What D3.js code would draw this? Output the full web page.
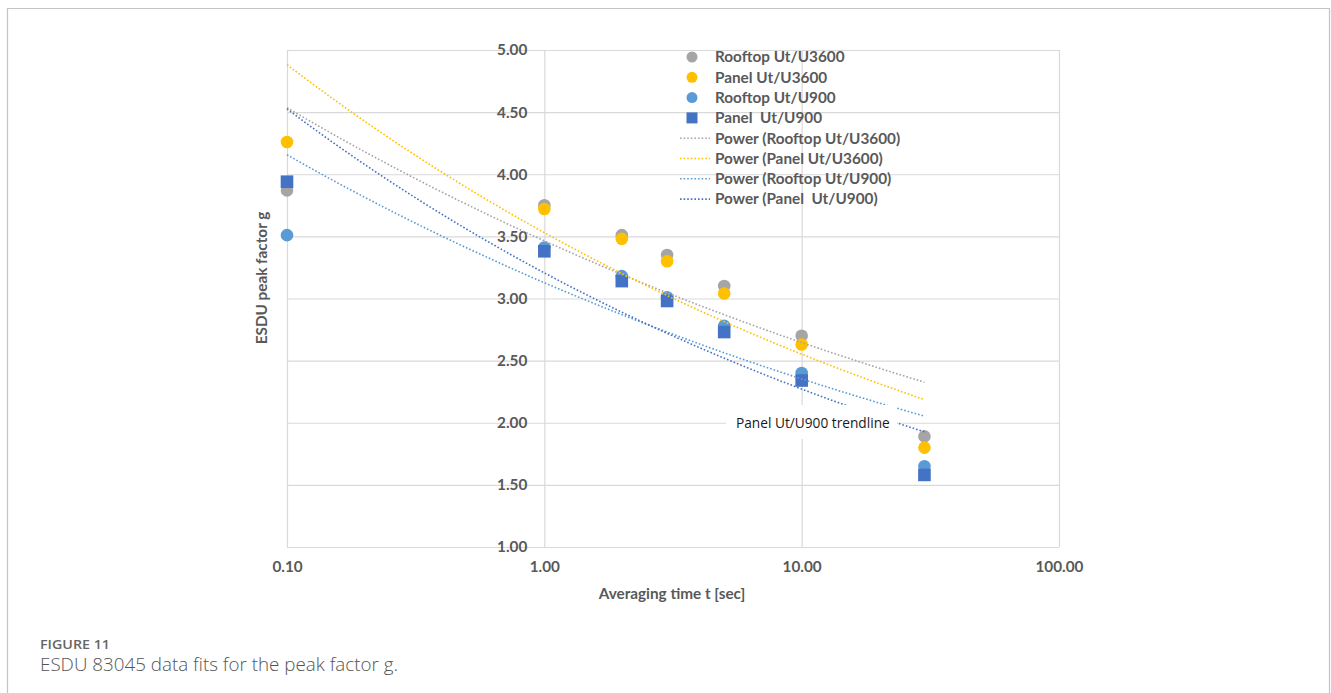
<!DOCTYPE html>
<html><head><meta charset="utf-8">
<script src="https://cdn.jsdelivr.net/npm/d3@7"></script>
<style>
html,body{margin:0;padding:0;background:#fff;}
svg{display:block;}
</style></head>
<body>
<svg id="chart" width="1331" height="693"></svg>
<script>
// ---- data ----
const times = [0.1, 1, 2, 3, 5, 10, 30];
const rooftopU3600 = [3.87, 3.75, 3.51, 3.35, 3.10, 2.70, 1.89];
const panelU3600   = [4.26, 3.72, 3.48, 3.30, 3.04, 2.63, 1.80];
const rooftopU900  = [3.51, 3.41, 3.18, 3.01, 2.78, 2.40, 1.65];
const panelU900    = [3.94, 3.38, 3.14, 2.98, 2.73, 2.34, 1.58];
const seriesNames = ["Rooftop Ut/U3600", "Panel Ut/U3600", "Rooftop Ut/U900", "Panel  Ut/U900"];
const trendNames = ["Power (Rooftop Ut/U3600)", "Power (Panel Ut/U3600)", "Power (Rooftop Ut/U900)", "Power (Panel  Ut/U900)"];
const xTicks = [0.1, 1, 10, 100];
const yTicks = [1, 1.5, 2, 2.5, 3, 3.5, 4, 4.5, 5];
const xTitle = "Averaging time t [sec]";
const yTitle = "ESDU peak factor g";
const annotation = "Panel Ut/U900 trendline";
const figLabel = "FIGURE 11";
const caption = "ESDU 83045 data fits for the peak factor g.";

const colors = ["#a5a5a5", "#ffc000", "#5b9bd5", "#4472c4"];
const shapes = ["circle", "circle", "circle", "square"];
const allSeries = [rooftopU3600, panelU3600, rooftopU900, panelU900];

const svg = d3.select("#chart");
const fontChart = "Lato, 'Open Sans', 'Liberation Sans', sans-serif";
const fs = 15.3;

// frame
svg.append("path").attr("d", "M7.5,700 L7.5,8.5 L1329.5,8.5 L1329.5,700")
  .attr("fill", "none").attr("stroke", "#c4c4c4").attr("stroke-width", 1.2);

const x = d3.scaleLog().domain([0.1, 100]).range([287, 1059]);
const y = d3.scaleLinear().domain([1, 5]).range([547, 50]);

// gridlines
const gH = svg.append("g").attr("transform", `translate(${x(0.1)},0)`)
  .call(d3.axisLeft(y).tickValues(yTicks).tickSize(-(x(100) - x(0.1))).tickFormat(""));
gH.select(".domain").remove();
gH.selectAll("line").attr("stroke", "#d9d9d9").attr("stroke-width", 1.2);

const gV = svg.append("g").attr("transform", `translate(0,${y(1)})`)
  .call(d3.axisBottom(x).tickValues(xTicks).tickSize(-(y(1) - y(5))).tickFormat(""));
gV.select(".domain").remove();
gV.selectAll("line").attr("stroke", "#d9d9d9").attr("stroke-width", 1.2);

// y tick labels (axis crosses at x = 1)
const gY = svg.append("g").attr("transform", `translate(${x(1) - 17},0)`)
  .call(d3.axisLeft(y).tickValues(yTicks).tickSize(0).tickPadding(0).tickFormat(d3.format(".2f")));
gY.select(".domain").remove();
gY.selectAll("text").attr("font-family", fontChart).attr("font-weight", "bold")
  .attr("font-size", fs).attr("fill", "#595959");

// x tick labels
const gX = svg.append("g").attr("transform", `translate(0,${y(1) + 14})`)
  .call(d3.axisBottom(x).tickValues(xTicks).tickSize(0).tickPadding(0).tickFormat(d3.format(".2f")));
gX.select(".domain").remove();
gX.selectAll("text").attr("font-family", fontChart).attr("font-weight", "bold")
  .attr("font-size", fs).attr("fill", "#595959").attr("dy", "0.71em");

// axis titles
svg.append("text").attr("x", 672).attr("y", 599).attr("text-anchor", "middle")
  .attr("font-family", fontChart).attr("font-weight", "bold").attr("font-size", fs)
  .attr("fill", "#595959").text(xTitle);
svg.append("text").attr("transform", "translate(267,278) rotate(-90)").attr("text-anchor", "middle")
  .attr("font-family", fontChart).attr("font-weight", "bold").attr("font-size", fs)
  .attr("fill", "#595959").text(yTitle);

// markers
function drawMarker(g, shape, cx, cy, color) {
  if (shape === "circle") {
    g.append("circle").attr("cx", cx).attr("cy", cy).attr("r", 6.3).attr("fill", color);
  } else {
    g.append("rect").attr("x", cx - 6.3).attr("y", cy - 6.3).attr("width", 12.6).attr("height", 12.6).attr("fill", color);
  }
}
const gM = svg.append("g");
allSeries.forEach((vals, i) => {
  vals.forEach((v, j) => drawMarker(gM, shapes[i], x(times[j]), y(v), colors[i]));
});

// power trendlines (least squares on ln x, ln y)
function powerFit(xs, ys) {
  const lx = xs.map(Math.log), ly = ys.map(Math.log);
  const mx = d3.mean(lx), my = d3.mean(ly);
  const b = d3.sum(lx.map((v, i) => (v - mx) * (ly[i] - my))) / d3.sum(lx.map(v => (v - mx) ** 2));
  const a = Math.exp(my - b * mx);
  return t => a * Math.pow(t, b);
}
const line = d3.line().x(d => x(d[0])).y(d => y(d[1]));
const gT = svg.append("g");
const sampleT = d3.range(0, 101).map(k => 0.1 * Math.pow(300, k / 100));
allSeries.forEach((vals, i) => {
  const f = powerFit(times, vals);
  gT.append("path").datum(sampleT.map(t => [t, f(t)])).attr("d", line)
    .attr("fill", "none").attr("stroke", colors[i]).attr("stroke-width", 1.6)
    .attr("stroke-dasharray", "1.6 2");
});

// annotation box
svg.append("rect").attr("x", 726).attr("y", 405).attr("width", 171).attr("height", 34).attr("fill", "#fff");
svg.append("text").attr("x", 736).attr("y", 428)
  .attr("font-family", "'Open Sans', 'Liberation Sans', sans-serif").attr("font-size", 13.7)
  .attr("fill", "#1a1a1a").text(annotation);

// legend
const gL = svg.append("g").attr("font-family", fontChart).attr("font-weight", "bold")
  .attr("font-size", fs).attr("fill", "#595959");
const legY0 = 57, legStep = 20.3;
seriesNames.forEach((n, i) => {
  const yy = legY0 + i * legStep;
  if (shapes[i] === "circle") gL.append("circle").attr("cx", 692).attr("cy", yy).attr("r", 5.5).attr("fill", colors[i]);
  else gL.append("rect").attr("x", 686.5).attr("y", yy - 5.5).attr("width", 11).attr("height", 11).attr("fill", colors[i]);
  gL.append("text").attr("x", 715).attr("y", yy).attr("dy", "0.35em")
    .style("white-space", "pre").text(n);
});
trendNames.forEach((n, i) => {
  const yy = legY0 + (i + 4) * legStep;
  gL.append("line").attr("x1", 680).attr("x2", 710).attr("y1", yy).attr("y2", yy)
    .attr("stroke", colors[i]).attr("stroke-width", 1.6).attr("stroke-dasharray", "1.6 2");
  gL.append("text").attr("x", 715).attr("y", yy).attr("dy", "0.35em")
    .style("white-space", "pre").text(n);
});

// caption
svg.append("text").attr("x", 40).attr("y", 649).attr("font-family", "'Open Sans', 'Liberation Sans', sans-serif")
  .attr("font-size", 13).attr("font-weight", 600).attr("fill", "#666")
  .attr("textLength", 70).attr("lengthAdjust", "spacingAndGlyphs").text(figLabel);
svg.append("text").attr("x", 40).attr("y", 671).attr("font-family", "'Open Sans', 'Liberation Sans', sans-serif")
  .attr("font-size", 17.5).attr("font-weight", 300).attr("fill", "#555")
  .attr("textLength", 358).attr("lengthAdjust", "spacingAndGlyphs").text(caption);
</script>
</body></html>
